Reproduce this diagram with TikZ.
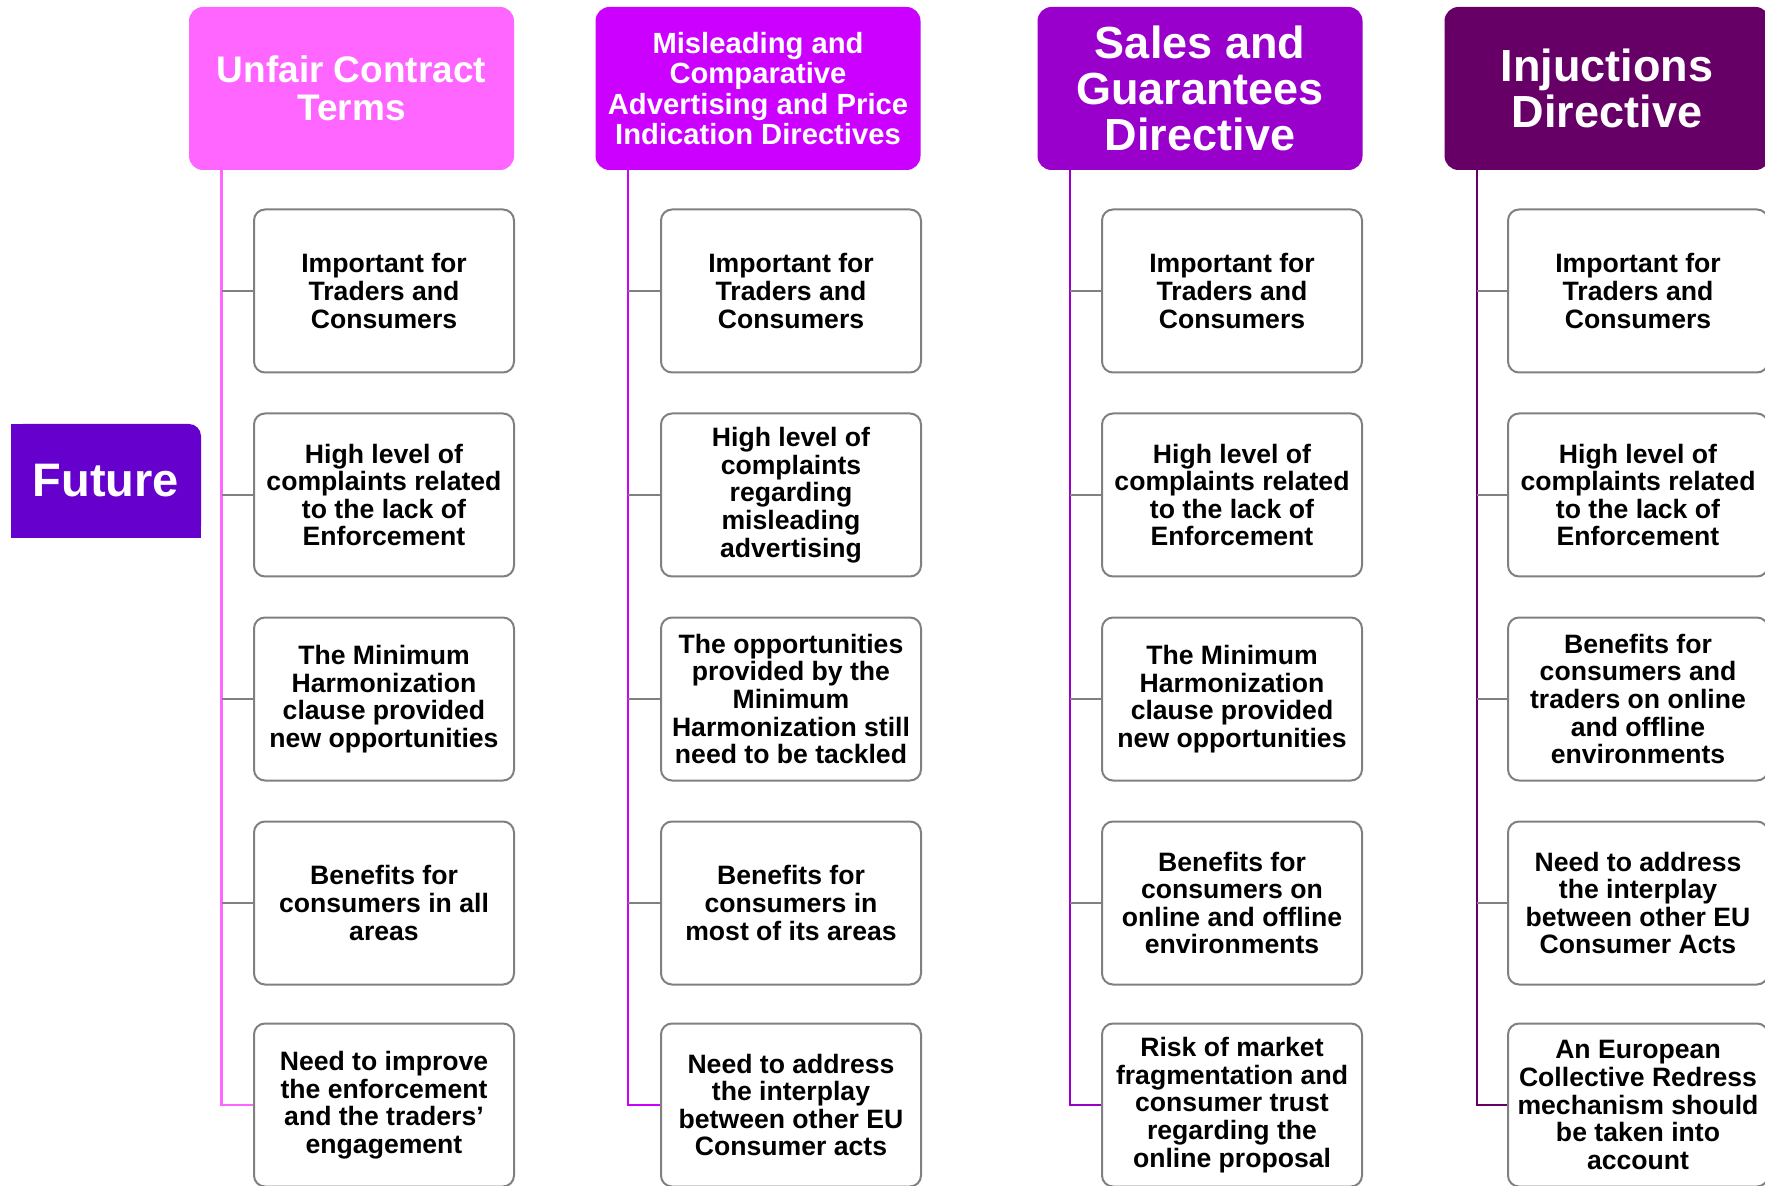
\documentclass[tikz,border=0pt]{standalone}
\usepackage{fontspec}
\setmainfont{Liberation Sans}
\usepackage{xcolor}
\usepackage{tikz}
\definecolor{dirpink}{RGB}{255, 102, 255}
\definecolor{dirmagenta}{RGB}{204, 0, 255}
\definecolor{dirpurple}{RGB}{153, 0, 204}
\definecolor{dirplum}{RGB}{102, 0, 102}
\definecolor{futureviolet}{RGB}{102, 0, 204}
\definecolor{boxgray}{RGB}{128, 128, 128}

\begin{document}
\begin{tikzpicture}[x=0.5pt, y=-0.5pt,
  head/.style={rounded corners=7pt, minimum width=162.5pt, minimum height=81.5pt,
    text=white, align=center, inner sep=2pt},
  item/.style={draw=boxgray, line width=1pt, rounded corners=5.5pt, fill=white,
    minimum width=130pt, minimum height=81.5pt, align=center, inner sep=1pt,
    font=\fontsize{13.3}{13.8}\selectfont\bfseries},
  spoke/.style={boxgray, line width=1pt},
  trunk/.style={line width=1.2pt}]
\useasboundingbox (0,0) rectangle (1765,1186);

% Future
\node[fill=futureviolet, rounded corners=6pt, minimum width=95pt, minimum height=57pt,
  text=white, font=\fontsize{23.5}{24}\selectfont\bfseries] (fut) at (106,481) {Future};
\fill[futureviolet] (fut.south west) rectangle ++(8pt,8pt);
\fill[futureviolet] (fut.north west) rectangle ++(8pt,-8pt);
\fill[futureviolet] (fut.south east) rectangle ++(-8pt,8pt);

% Unfair Contract Terms
\node[head, fill=dirpink, font=\fontsize{18.5}{19}\selectfont\bfseries] (h1) at (351.5,88.5) {Unfair Contract\\Terms};
\node[item] (c11) at (384,291) {Important for\\Traders and\\Consumers};
\node[item] (c12) at (384,495) {High level of\\complaints related\\to the lack of\\Enforcement};
\node[item] (c13) at (384,699) {The Minimum\\Harmonization\\clause provided\\new opportunities};
\node[item] (c14) at (384,903) {Benefits for\\consumers in all\\areas};
\node[item] (c15) at (384,1105) {Need to improve\\the enforcement\\and the traders’\\engagement};
\path (h1.south west) ++(33,0) coordinate (t1);
\draw[trunk, dirpink] (t1) |- (c15.west);
\foreach \r in {1,...,4}
  \draw[spoke] (t1 |- c1\r.west) -- (c1\r.west);

% Misleading and Comparative Advertising
\node[head, fill=dirmagenta, font=\fontsize{14.6}{15.2}\selectfont\bfseries] (h2) at (758,88.5) {Misleading and\\Comparative\\Advertising and Price\\Indication Directives};
\node[item] (c21) at (791,291) {Important for\\Traders and\\Consumers};
\node[item] (c22) at (791,495) {High level of\\complaints\\regarding\\misleading\\advertising};
\node[item] (c23) at (791,699) {The opportunities\\provided by the\\Minimum\\Harmonization still\\need to be tackled};
\node[item] (c24) at (791,903) {Benefits for\\consumers in\\most of its areas};
\node[item] (c25) at (791,1105) {Need to address\\the interplay\\between other EU\\Consumer acts};
\path (h2.south west) ++(33,0) coordinate (t2);
\draw[trunk, dirmagenta] (t2) |- (c25.west);
\foreach \r in {1,...,4}
  \draw[spoke] (t2 |- c2\r.west) -- (c2\r.west);

% Sales and Guarantees
\node[head, fill=dirpurple, font=\fontsize{22.5}{23}\selectfont\bfseries] (h3) at (1200,88.5) {Sales and\\Guarantees\\Directive};
\node[item] (c31) at (1232,291) {Important for\\Traders and\\Consumers};
\node[item] (c32) at (1232,495) {High level of\\complaints related\\to the lack of\\Enforcement};
\node[item] (c33) at (1232,699) {The Minimum\\Harmonization\\clause provided\\new opportunities};
\node[item] (c34) at (1232,903) {Benefits for\\consumers on\\online and offline\\environments};
\node[item] (c35) at (1232,1105) {Risk of market\\fragmentation and\\consumer trust\\regarding the\\online proposal};
\path (h3.south west) ++(33,0) coordinate (t3);
\draw[trunk, dirpurple] (t3) |- (c35.west);
\foreach \r in {1,...,4}
  \draw[spoke] (t3 |- c3\r.west) -- (c3\r.west);

% Injuctions
\node[head, fill=dirplum, font=\fontsize{22.5}{23}\selectfont\bfseries] (h4) at (1607,88.5) {Injuctions\\Directive};
\node[item] (c41) at (1638,291) {Important for\\Traders and\\Consumers};
\node[item] (c42) at (1638,495) {High level of\\complaints related\\to the lack of\\Enforcement};
\node[item] (c43) at (1638,699) {Benefits for\\consumers and\\traders on online\\and offline\\environments};
\node[item] (c44) at (1638,903) {Need to address\\the interplay\\between other EU\\Consumer Acts};
\node[item] (c45) at (1638,1105) {An European\\Collective Redress\\mechanism should\\be taken into\\account};
\path (h4.south west) ++(33,0) coordinate (t4);
\draw[trunk, dirplum] (t4) |- (c45.west);
\foreach \r in {1,...,4}
  \draw[spoke] (t4 |- c4\r.west) -- (c4\r.west);
\end{tikzpicture}
\end{document}
